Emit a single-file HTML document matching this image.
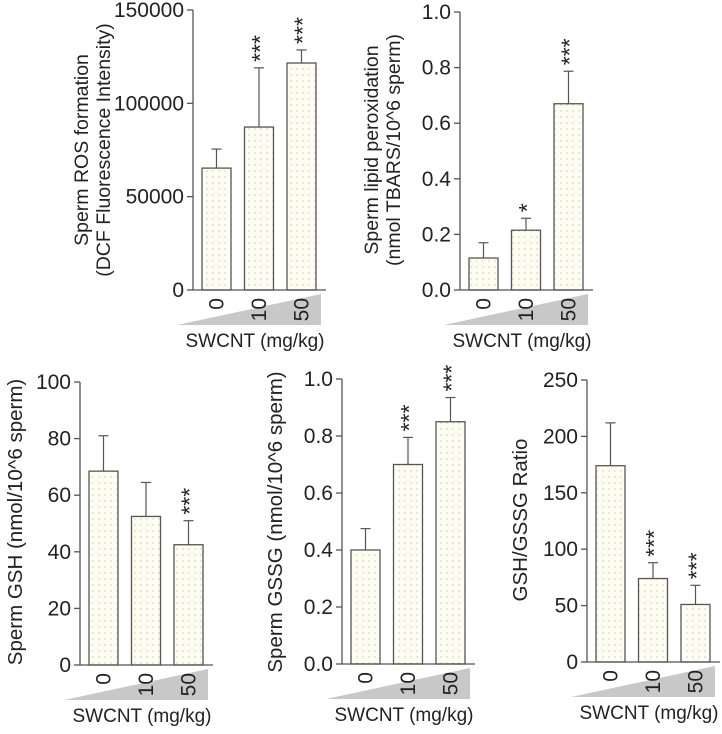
<!DOCTYPE html>
<html><head><meta charset="utf-8"><style>
body{margin:0;background:#fff}
svg text{font-family:"Liberation Sans",Arial,sans-serif;fill:#222}
</style></head><body>
<svg id="fig" width="722" height="729" viewBox="0 0 722 729" xmlns="http://www.w3.org/2000/svg">
<defs><pattern id="dots" width="6" height="6" patternUnits="userSpaceOnUse"><rect width="6" height="6" fill="#fdfdf2"/><circle cx="3" cy="3" r="0.7" fill="#c9c9a8"/></pattern></defs>
</svg>
<script>
var categories=["0","10","50"];
var rosValues=[65300,87300,121600];
var rosErr=[75500,119000,128600];
var rosStars=["","***","***"];
var rosTicks=[0,50000,100000,150000];
var lpoValues=[0.115,0.215,0.67];
var lpoErr=[0.17,0.258,0.787];
var lpoStars=["","*","***"];
var lpoTicks=["0.0","0.2","0.4","0.6","0.8","1.0"];
var gshValues=[68.5,52.5,42.5];
var gshErr=[81,64.5,51];
var gshStars=["","","***"];
var gshTicks=[0,20,40,60,80,100];
var gssgValues=[0.40,0.70,0.85];
var gssgErr=[0.475,0.795,0.935];
var gssgStars=["","***","***"];
var gssgTicks=["0.0","0.2","0.4","0.6","0.8","1.0"];
var ratioValues=[174,74,51];
var ratioErr=[212,88,68];
var ratioStars=["","***","***"];
var ratioTicks=[0,50,100,150,200,250];

var svg=document.getElementById('fig');
var NS="http://www.w3.org/2000/svg";
function mk(tag,attrs,parent){var e=document.createElementNS(NS,tag);for(var k in attrs)e.setAttribute(k,attrs[k]);(parent||svg).appendChild(e);return e;}

function panel(id,ax,top,zero,ticks,vals,errs,stars,labels,lx,ly,fs){
  var g=mk('g',{});
  
  
  var max=parseFloat(ticks[ticks.length-1]);
  function y(v){return zero-(v/max)*(zero-top);}
  function x(i){return ax+9+i*42.5;}
  var bw=29;
  var tri=mk('polygon',{points:(ax-16)+','+(zero+35)+' '+(ax+128)+','+(zero+35)+' '+(ax+128)+','+(zero+4),fill:'#c8c8c8'},g);
  
  
  for(var i=0;i<vals.length;i++){
    var bx=x(i),cx=bx+bw/2;
    var er=mk('line',{x1:cx,x2:cx,y1:y(vals[i]),y2:y(errs[i]),stroke:'#555','stroke-width':1.2},g);
    
    
    mk('line',{x1:cx-5,x2:cx+5,y1:y(errs[i]),y2:y(errs[i]),stroke:'#555','stroke-width':1.2},g);
    var r=mk('rect',{x:bx,y:y(vals[i]),width:bw,height:zero-y(vals[i]),fill:'url(#dots)',stroke:'#555','stroke-width':1.3},g);
    
    
    var t=mk('text',{transform:'translate('+(cx+7)+','+(zero+8)+') rotate(-90)','text-anchor':'end','font-size':21},g);
    t.textContent=categories[i];
    
    
    if(stars[i]){
      var s=mk('text',{transform:'translate('+(cx+9)+','+(y(errs[i])-6)+') rotate(-90)','text-anchor':'start','font-size':23},g);
      s.textContent=stars[i];
      
      
    }
  }
  mk('line',{x1:ax,x2:ax,y1:top,y2:zero,stroke:'#555','stroke-width':1.3},g);
  mk('line',{x1:ax,x2:ax+133,y1:zero,y2:zero,stroke:'#555','stroke-width':1.3},g);
  for(var j=0;j<ticks.length;j++){
    var ty=y(parseFloat(ticks[j]));
    mk('line',{x1:ax-6,x2:ax,y1:ty,y2:ty,stroke:'#555','stroke-width':1.3},g);
    var tl=mk('text',{x:ax-9,y:ty+7,'text-anchor':'end','font-size':21},g);
    tl.textContent=ticks[j];
    
    
  }
  for(var k=0;k<labels.length;k++){
    var yl=mk('text',{transform:'translate('+(lx+k*22)+','+ly+') rotate(-90)','text-anchor':'middle','font-size':fs},g);
    yl.textContent=labels[k];
    
    
  }
  var xl=mk('text',{x:ax+62,y:zero+57,'text-anchor':'middle','font-size':19},g);
  xl.textContent='SWCNT (mg/kg)';
  
  
}
panel('ros',193,10,290,rosTicks,rosValues,rosErr,rosStars,['Sperm ROS formation','(DCF Fluorescence Intensity)'],88,150,19.5);
panel('lipid-peroxidation',460,12,290,lpoTicks,lpoValues,lpoErr,lpoStars,['Sperm lipid peroxidation','(nmol TBARS/10^6 sperm)'],378,150,19.5);
panel('gsh',80,382,665,gshTicks,gshValues,gshErr,gshStars,['Sperm GSH (nmol/10^6 sperm)'],22,522,20.5);
panel('gssg',342,379,664,gssgTicks,gssgValues,gssgErr,gssgStars,['Sperm GSSG (nmol/10^6 sperm)'],282,522,20.5);
panel('gsh-gssg-ratio',587,380,662,ratioTicks,ratioValues,ratioErr,ratioStars,['GSH/GSSG Ratio'],527,520,20.5);
</script>
</body></html>
